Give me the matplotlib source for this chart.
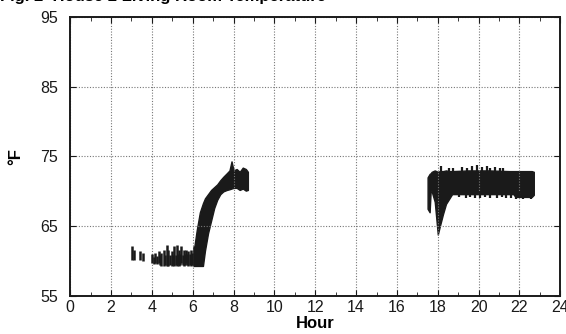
import numpy as np
import matplotlib
matplotlib.use("Agg")
import matplotlib.pyplot as plt
from matplotlib.ticker import MultipleLocator

# early morning readings: individual spikes (hour, low, high)
comb_hr = [3.02, 3.14, 3.41, 3.57, 4.02, 4.10, 4.17, 4.25, 4.33, 4.40, 4.46,
           4.57, 4.65, 4.73, 4.81, 4.89, 4.97, 5.03, 5.10, 5.16, 5.21, 5.27,
           5.32, 5.38, 5.44, 5.50, 5.56, 5.62, 5.68, 5.74, 5.79, 5.86, 5.92,
           5.98, 6.05]
comb_lo = [60.2, 60.2, 60.2, 60.0, 59.7, 59.6, 59.7, 59.6, 59.7, 59.5, 59.3,
           59.3, 59.4, 59.3, 59.3, 59.4, 59.3, 59.4, 59.3, 59.4, 59.3, 59.4,
           59.3, 59.4, 59.7, 59.4, 59.3, 59.4, 59.7, 59.4, 59.3, 59.4, 59.3,
           59.4, 59.3]
comb_hi = [62.1, 61.6, 61.4, 61.2, 61.0, 60.6, 61.2, 60.7, 61.4, 60.8, 61.2,
           61.6, 60.9, 62.3, 61.6, 60.9, 61.4, 60.8, 62.1, 60.9, 62.3, 61.0,
           61.6, 61.0, 62.1, 60.9, 61.6, 61.0, 61.6, 61.0, 61.4, 61.0, 61.6,
           61.2, 62.1]

# morning warm-up band
ramp_hr = [6.05, 6.1, 6.2, 6.35, 6.5, 6.6, 6.75, 6.9, 7.05, 7.2, 7.35, 7.5,
           7.67, 7.8, 7.9, 8.0, 8.15, 8.3, 8.45, 8.6, 8.7]
ramp_hi = [61.5, 62.5, 64.5, 67.0, 68.3, 69.0, 69.6, 70.2, 70.6, 71.0, 71.6,
           72.1, 72.6, 73.0, 74.3, 73.0, 73.2, 72.8, 73.4, 73.2, 72.8]
ramp_lo = [59.3, 59.3, 59.3, 59.3, 59.3, 61.5, 64.0, 65.8, 67.6, 68.8, 69.6,
           70.0, 70.2, 70.3, 70.4, 70.5, 70.5, 70.2, 70.4, 70.1, 70.2]

# evening band
eve_hr = [17.5, 17.6, 17.65, 17.7, 17.85, 18.0, 18.1, 18.25, 18.4, 18.55,
          18.7, 19.5, 20.5, 21.5, 21.7, 21.8, 22.6, 22.7]
eve_hi = [72.0, 72.5, 72.6, 72.8, 73.0, 72.8, 72.9, 72.9, 73.0, 72.9,
          72.9, 73.0, 73.0, 72.9, 72.9, 72.9, 72.9, 72.8]
eve_lo = [67.5, 67.0, 70.0, 70.0, 68.5, 63.8, 65.0, 66.7, 68.2, 68.9,
          69.6, 69.6, 69.6, 69.6, 69.6, 69.2, 69.2, 69.5]

# spikes poking out of the evening band
eve_top_hr = [18.16, 18.56, 18.72, 19.2, 19.44, 19.68, 19.92, 20.16, 20.4,
              20.56, 20.8, 21.04, 21.2]
eve_top = [73.6, 73.4, 73.3, 73.5, 73.4, 73.6, 73.8, 73.5, 73.6, 73.4,
           73.5, 73.4, 73.3]
eve_bot_hr = [19.04, 19.36, 19.6, 19.84, 20.08, 20.32, 20.56, 20.88, 21.12,
              21.36, 21.6, 21.84, 22.0, 22.16, 22.4, 22.56]
eve_bot = [69.2, 69.1, 69.2, 69.0, 69.1, 69.2, 69.0, 69.1, 69.2, 69.0, 69.1,
           68.9, 69.0, 68.9, 69.0, 68.9]

plt.rcParams['font.family'] = ['Liberation Sans', 'DejaVu Sans']

fig = plt.figure(figsize=(5.66, 3.34), dpi=100)
ax = fig.add_axes([0.124, 0.114, 0.866, 0.835])

ink = '#1a1a1a'
ax.vlines(comb_hr, comb_lo, comb_hi, color=ink, lw=1.8)
ax.fill_between(ramp_hr, ramp_lo, ramp_hi, color=ink, lw=1.0, edgecolor=ink)
ax.fill_between(eve_hr, eve_lo, eve_hi, color=ink, lw=1.0, edgecolor=ink)
ax.vlines(eve_top_hr, 72.5, eve_top, color=ink, lw=1.6)
ax.vlines(eve_bot_hr, eve_bot, 70.0, color=ink, lw=1.6)

ax.set_xlim(0, 24)
ax.set_ylim(55, 95)
ax.xaxis.set_major_locator(MultipleLocator(2))
ax.xaxis.set_minor_locator(MultipleLocator(1))
ax.set_yticks([55, 65, 75, 85, 95])
ax.tick_params(which='both', direction='in', top=True, right=True,
               labelsize=11.5, colors='#1a1a1a')
ax.tick_params(which='major', length=4)
ax.tick_params(which='minor', length=3)
ax.tick_params(axis='x', pad=3)
ax.tick_params(axis='y', pad=9)

ax.grid(True, which='major', axis='x', color='#777777', lw=0.8,
        linestyle=(0, (1, 1.5)))
ax.grid(True, which='major', axis='y', color='#777777', lw=0.8,
        linestyle=(0, (1, 1.5)))
for s in ax.spines.values():
    s.set_linewidth(1.4)
    s.set_color('#1a1a1a')

ax.set_xlabel('Hour', fontsize=12, fontweight='bold', labelpad=1)
ax.set_ylabel('°F', fontsize=12, fontweight='bold', labelpad=12)

fig.text(0.0, 0.998, 'Fig. 2  House 2 Living Room Temperature',
         fontsize=12, fontweight='bold', va='baseline', ha='left')

fig.savefig('out.png', dpi=100)
